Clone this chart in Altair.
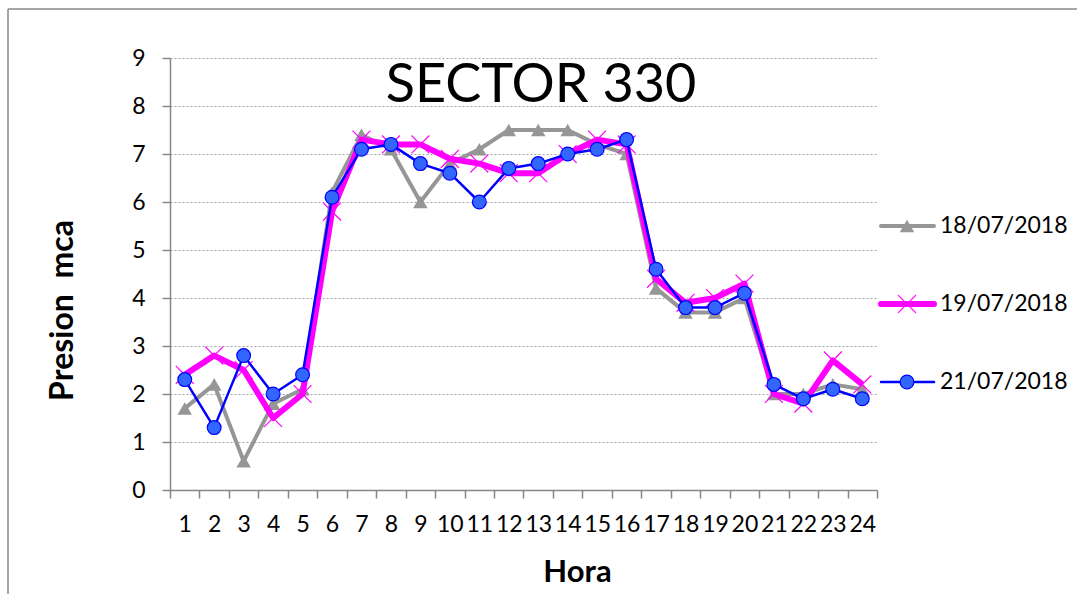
import altair as alt
import pandas as pd

hora = list(range(1, 25))
s18 = [1.7, 2.2, 0.6, 1.8, 2.1, 6.2, 7.4, 7.1, 6.0, 6.8, 7.1, 7.5, 7.5, 7.5, 7.2, 7.0, 4.2, 3.7, 3.7, 4.0, 2.0, 2.0, 2.2, 2.1]
s19 = [2.4, 2.8, 2.5, 1.5, 2.0, 5.8, 7.3, 7.2, 7.2, 6.9, 6.8, 6.6, 6.6, 7.0, 7.3, 7.2, 4.4, 3.9, 4.0, 4.3, 2.0, 1.8, 2.7, 2.2]
s21 = [2.3, 1.3, 2.8, 2.0, 2.4, 6.1, 7.1, 7.2, 6.8, 6.6, 6.0, 6.7, 6.8, 7.0, 7.1, 7.3, 4.6, 3.8, 3.8, 4.1, 2.2, 1.9, 2.1, 1.9]
series_names = ["18/07/2018", "19/07/2018", "21/07/2018"]
y_ticks = list(range(0, 10))

rows = []
for name, vals in zip(series_names, [s18, s19, s21]):
    for h, v in zip(hora, vals):
        rows.append({"hora": h, "presion": v, "serie": name})
df = pd.DataFrame(rows)
leg_df = pd.DataFrame({"serie": series_names})
title_df = pd.DataFrame({"t": ["SECTOR 330"]})

FONT = "Lato"
W, H = 707, 432
X_PATH = "M-1,-1L1,1M-1,1L1,-1"

styles = {
    "18/07/2018": dict(color="#969696", width=4, shape="triangle-up", size=210, fill="#969696", stroke="#969696", sw=0, filled=True),
    "19/07/2018": dict(color="#FF00FF", width=6, shape=X_PATH, size=320, fill="transparent", stroke="#FF00FF", sw=1.2, filled=False),
    "21/07/2018": dict(color="#0000FF", width=2.5, shape="circle", size=190, fill="#3366FF", stroke="#0000FF", sw=1.2, filled=True),
}

x_enc = alt.X(
    "hora:O",
    scale=alt.Scale(type="band", domain=hora, paddingInner=0, paddingOuter=0),
    bandPosition=0.5,
    axis=alt.Axis(
        title="Hora", titleFont=FONT, titleFontSize=31, titleFontWeight="bold", titleColor="black",
        titleX=407, titleY=82, titleBaseline="middle", titleAlign="center", titleAnchor="start",
        labelFont=FONT, labelFontSize=23, labelColor="black", labelAngle=0, labelPadding=15,
        tickBand="extent", tickSize=8, tickColor="#868686", tickWidth=1.5,
        domainColor="#868686", domainWidth=1.5, grid=False, labelOverlap=False,
    ),
)

y_axis = alt.Axis(
    title="Presion\u00a0\u00a0mca", titleFont=FONT, titleFontSize=32, titleFontWeight="bold", titleColor="black",
    titleX=-108, titleY=252, titleAngle=270, titleBaseline="middle", titleAlign="center", titleAnchor="start",
    values=y_ticks, labelFont=FONT, labelFontSize=23, labelColor="black", labelPadding=17,
    tickSize=8, tickColor="#868686", tickWidth=1.5, domainColor="#868686", domainWidth=1.5,
    grid=True, gridColor="#a6a6a6", gridDash=[2, 2], gridWidth=1.2,
)
y_enc = alt.Y("presion:Q", scale=alt.Scale(domain=[0, 9], nice=False), axis=y_axis)

main_layers = []
for name in series_names:
    st = styles[name]
    base = alt.Chart(df).transform_filter(alt.datum.serie == name)
    line = base.mark_line(color=st["color"], strokeWidth=st["width"], strokeJoin="round").encode(
        x=x_enc, y=y_enc
    )
    pts = base.mark_point(
        shape=st["shape"], size=st["size"], filled=st["filled"], fill=st["fill"],
        stroke=st["stroke"], strokeWidth=st["sw"], opacity=1,
    ).encode(x=x_enc, y=y_enc)
    main_layers += [line, pts]

main = alt.layer(*main_layers)

leg_y = alt.Y("serie:N", scale=alt.Scale(type="point", domain=series_names, range=[168, 324], padding=0), axis=None)
leg_layers = []
for name in series_names:
    st = styles[name]
    lb = alt.Chart(leg_df).transform_filter(alt.datum.serie == name)
    leg_layers.append(lb.mark_rule(color=st["color"], strokeWidth=st["width"], strokeCap="round").encode(
        x=alt.value(711), x2=alt.value(764), y=leg_y))
    leg_layers.append(lb.mark_point(
        shape=st["shape"], size=st["size"], filled=st["filled"], fill=st["fill"],
        stroke=st["stroke"], strokeWidth=st["sw"], opacity=1,
    ).encode(x=alt.value(737), y=leg_y))
leg_layers.append(alt.Chart(leg_df).mark_text(
    align="left", baseline="middle", font=FONT, fontSize=23, color="black"
).encode(x=alt.value(770), y=leg_y, text="serie:N"))
legend = alt.layer(*leg_layers)

title = alt.Chart(title_df).mark_text(
    align="center", baseline="alphabetic", font=FONT, fontSize=54, color="black"
).encode(x=alt.value(371), y=alt.value(44), text="t:N")

border = alt.Chart(title_df).mark_rule(color="#898989", strokeWidth=1.5).encode(
    x=alt.value(-162), y=alt.value(-49), y2=alt.value(560)
)
border_top = alt.Chart(title_df).mark_rule(color="#898989", strokeWidth=1.5).encode(
    x=alt.value(-162), x2=alt.value(920), y=alt.value(-49)
)

chart = alt.layer(border, border_top, main, legend, title).resolve_scale(y="independent").properties(
    width=W, height=H,
    autosize=alt.AutoSizeParams(type="none"),
    padding={"left": 170, "top": 58, "right": 200, "bottom": 104},
    background="white",
).configure_view(strokeWidth=0)

chart.save("out.html", embed_options={"renderer": "svg", "actions": False})
